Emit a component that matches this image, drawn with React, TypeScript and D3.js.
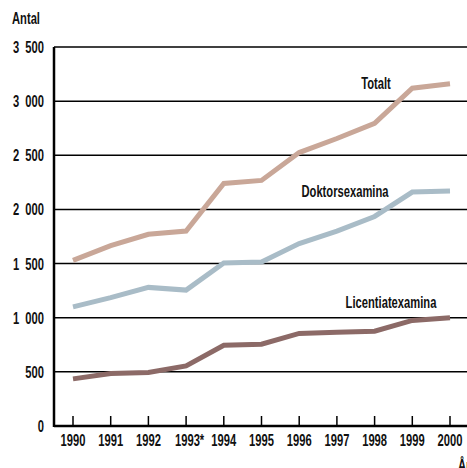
import React from "react";
import * as d3 from "d3";

const years = ["1990","1991","1992","1993*","1994","1995","1996","1997","1998","1999","2000"];
const totalt = [1530, 1665, 1770, 1800, 2240, 2268, 2525, 2655, 2795, 3120, 3160];
const doktor = [1100, 1185, 1280, 1255, 1505, 1515, 1685, 1800, 1935, 2160, 2170];
const licentiat = [435, 485, 495, 555, 745, 755, 855, 865, 875, 975, 1000];
const yTicks = [0, 500, 1000, 1500, 2000, 2500, 3000, 3500];

const series = [
  { name: "Totalt", values: totalt, color: "#c9a798", lx: 376, ly: 89 },
  { name: "Doktorsexamina", values: doktor, color: "#a9bcc7", lx: 345, ly: 197 },
  { name: "Licentiatexamina", values: licentiat, color: "#8c6a67", lx: 391, ly: 308 },
];

const FONT = "'Liberation Sans', Arial, sans-serif";

function T({ x, y, anchor = "start", children }: { x: number; y: number; anchor?: string; children: React.ReactNode }) {
  return (
    <text transform={`translate(${x},${y}) scale(0.7,1)`} textAnchor={anchor} fontSize={16} fontWeight="bold" fill="#111" fontFamily={FONT}>
      {children}
    </text>
  );
}

export default function App() {
  const W = 467, H = 468;
  const left = 54, right = 467, top = 47, bottom = 426;
  const x = d3.scalePoint<string>().domain(years).range([73, 450]);
  const y = d3.scaleLinear().domain([0, 3500]).range([bottom, top]);
  const line = d3.line<number>().x((_, i) => x(years[i])!).y(d => y(d));
  const fmt = (v: number) => v >= 1000 ? `${Math.floor(v / 1000)}\u00a0\u00a0${String(v % 1000).padStart(3, "0")}` : String(v);
  return (
    <svg width={W} height={H} style={{ position: "absolute", left: 0, top: 0, background: "#fff" }}>
      {yTicks.map(t => (
        <g key={t}>
          <line x1={left} x2={right} y1={y(t)} y2={y(t)} stroke="#000" strokeWidth={t === 0 ? 2.5 : 1.5} />
          <T x={44} y={y(t) + 6} anchor="end">{fmt(t)}</T>
        </g>
      ))}
      <line x1={left} x2={left} y1={top} y2={bottom + 1} stroke="#000" strokeWidth={2.5} />
      {years.map(yr => (
        <g key={yr}>
          <line x1={x(yr)} x2={x(yr)} y1={bottom} y2={bottom - 10} stroke="#000" strokeWidth={1.5} />
          <T x={x(yr)! + (yr === "1993*" ? 3.5 : 0)} y={446} anchor="middle">{yr}</T>
        </g>
      ))}
      {series.map(s => (
        <g key={s.name}>
          <path d={line(s.values)!} fill="none" stroke={s.color} strokeWidth={5} strokeLinejoin="miter" />
          <T x={s.lx} y={s.ly} anchor="middle">{s.name}</T>
        </g>
      ))}
      <T x={12} y={24}>Antal</T>
      <T x={458} y={471}>År</T>
    </svg>
  );
}
